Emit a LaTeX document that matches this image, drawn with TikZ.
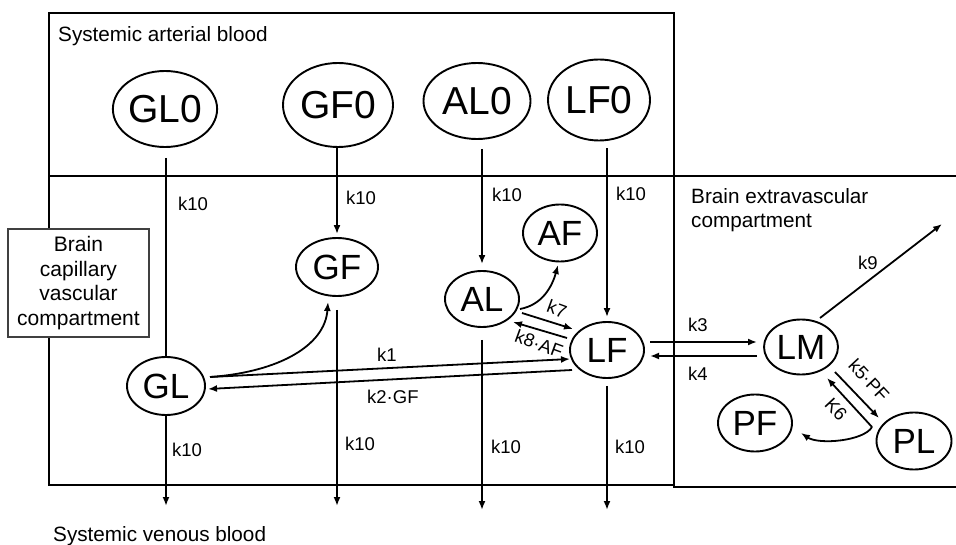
\documentclass[tikz,border=0pt]{standalone}
\usepackage{fontspec}
\setmainfont{Liberation Sans}
\usetikzlibrary{arrows.meta,calc,shapes.geometric}

\begin{document}
\begin{tikzpicture}[x=1pt,y=-1pt,
  pool/.style={ellipse, draw, line width=1.9pt, inner sep=0pt,
               font=\fontsize{35}{36}\selectfont},
  toppool/.style={pool, font=\fontsize{39}{40}\selectfont},
  link/.style={line width=1.8pt},
  flow/.style={link, -{Latex[length=9pt,width=7pt]}},
  rate/.style={font=\fontsize{18.5}{20}\selectfont, inner sep=0pt},
  title/.style={font=\fontsize{20.7}{24}\selectfont, inner sep=0pt},
  compbox/.style={line width=2.2pt}]

\useasboundingbox (0,0) rectangle (956,545);

% compartments
\draw[compbox] (49,13) rectangle (674,176);
\draw[compbox] (49,176) rectangle (674,485);
\draw[compbox] (674,176) -- (956,176);
\draw[compbox] (674,485) -- (674,487) -- (956,487);

\node[title, anchor=base west] (art) at (58,42) {Systemic arterial blood};
\node[title, anchor=base west] (ven) at (53,541) {Systemic venous blood};
\node[title, anchor=north west, align=left] (ext) at (691,188)
  {Brain extravascular\\compartment};
\node[draw=black!75, line width=1.2pt, fill=white, minimum width=141pt,
      minimum height=108pt, inner sep=0pt, align=center,
      font=\fontsize{21}{24.5}\selectfont] (cap) at (78.5,283)
  {Brain\\capillary\\vascular\\compartment};

% arterial pools
\node[toppool, minimum width=104pt, minimum height=76pt] (GL0) at (165,109) {GL0};
\node[toppool, minimum width=110pt, minimum height=84pt] (GF0) at (338,105) {GF0};
\node[toppool, minimum width=107pt, minimum height=76pt] (AL0) at (477,101) {AL0};
\node[toppool, minimum width=102pt, minimum height=81pt] (LF0) at (599,100) {LF0};

% capillary pools
\node[pool, minimum width=82pt, minimum height=58pt] (GF) at (337,267) {GF};
\node[pool, minimum width=74pt, minimum height=57pt] (AF) at (560,233) {AF};
\node[pool, minimum width=74pt, minimum height=56pt] (AL) at (482,299) {AL};
\node[pool, minimum width=74pt, minimum height=56pt] (LF) at (607,350) {LF};
\node[pool, minimum width=78pt, minimum height=58pt] (GL) at (166,386) {GL};

% extravascular pools
\node[pool, minimum width=74pt, minimum height=55pt] (LM) at (801,347) {LM};
\node[pool, minimum width=74pt, minimum height=57pt] (PF) at (755,423) {PF};
\node[pool, minimum width=75pt, minimum height=57pt] (PL) at (914,441) {PL};

% free ends
\coordinate (vGL) at (166,506);
\coordinate (vGF) at (337,506);
\coordinate (vAL) at (482,510);
\coordinate (vLF) at (607,510);
\coordinate (out9) at (942,224);
\coordinate (c6) at ($(PL)+(-42,-14)$);

% arterial inflow
\draw[link, shorten <=10pt] (GL |- GL0.south) -- (GL.north);
\draw[flow, shorten >=3pt] (GF |- GF0.south) -- (GF.north);
\draw[flow, shorten <=9pt, shorten >=6pt] (AL |- AL0.south) -- (AL.north);
\draw[flow, shorten <=7pt, shorten >=4pt] (LF |- LF0.south) -- (LF.north);
\node[rate, anchor=base west] (r1) at (178,211) {k10};
\node[rate, anchor=base west] (r2) at (346,205) {k10};
\node[rate, anchor=base west] (r3) at (492,202) {k10};
\node[rate, anchor=base west] (r4) at (616,201) {k10};

% venous outflow
\draw[flow] (GL.south) -- (vGL);
\draw[flow, shorten <=13pt] (GF.south) -- (vGF);
\draw[flow, shorten <=12pt] (AL.south) -- (vAL);
\draw[flow, shorten <=7pt] (LF.south) -- (vLF);
\node[rate, anchor=base west] (r5) at (172,456) {k10};
\node[rate, anchor=base west] (r6) at (345,450) {k10};
\node[rate, anchor=base west] (r7) at (491,453) {k10};
\node[rate, anchor=base west] (r8) at (615,453) {k10};

% capillary exchange
\draw[flow] ($(GL)+(44,-9)$) .. controls +(70,-5) and +(-3,43) .. ($(GF)+(-9,35)$);
\draw[flow] ($(GL)+(44,-9)$) -- ($(LF)+(-37,9)$);
\draw[flow] ($(LF)+(-35,20)$) -- ($(GL)+(42,3)$);
\node[rate, anchor=base west] (lk1) at (377,362) {k1};
\node[rate, anchor=base west] (lk2) at (367,403) {k2·GF};

\draw[flow] ($(AL)+(38,10)$) .. controls +(22,-4) and +(-6,22) .. ($(AF)+(-2,32)$);
\draw[flow] ($(AL)+(40,14)$) -- ($(LF)+(-34,-21)$);
\draw[flow] ($(LF)+(-40,-12)$) -- ($(AL)+(31,23)$);
\node[rate, rotate=-20] (lk7) at (557,309) {k7};
\node[rate, rotate=-20] (lk8) at (539,344) {k8·AF};

% transport across the barrier
\draw[flow] ($(LF)+(43,-8)$) -- ($(LM)+(-44,-5)$);
\draw[flow] ($(LM)+(-44,9)$) -- ($(LF)+(43,6)$);
\node[rate, anchor=base west] (lk3) at (688,332) {k3};
\node[rate, anchor=base west] (lk4) at (688,380) {k4};

% extravascular reactions
\draw[flow] ($(LM)+(19,-29)$) -- (out9);
\node[rate, anchor=base west] (lk9) at (858,270) {k9};
\draw[flow] ($(LM)+(34,25)$) -- ($(PL)+(-35,-23)$);
\draw[flow] (c6) -- ($(LM)+(26,31)$);
\draw[flow] (c6) .. controls +(-8,14) and +(18,12) .. ($(PF)+(46,10)$);
\node[rate, rotate=-47] (lk5) at (869,380) {k5·PF};
\node[rate, rotate=-47] (lk6) at (836,409) {K6};

\end{tikzpicture}
\end{document}
